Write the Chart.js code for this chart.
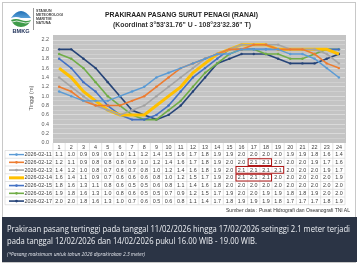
<!DOCTYPE html>
<html><head><meta charset="utf-8">
<script src="https://cdn.jsdelivr.net/npm/chart.js@4.4.1/dist/chart.umd.min.js"></script>
<style>
html,body{margin:0;padding:0;background:#fff;}
#wrap{position:relative;width:360px;height:266px;overflow:hidden;background:#fff;}
#frame{position:absolute;left:2px;top:2px;width:354px;height:261px;border:1px solid #c8c8c8;box-sizing:border-box;}
canvas{position:absolute;left:0;top:0;}
.t{position:absolute;white-space:nowrap;transform-origin:0 50%;}
#title{left:105px;top:10px;font:bold 7.2px "Liberation Sans",Arial,sans-serif;color:#222;}
#sub{left:113px;top:21px;font:bold 7px "Liberation Sans",Arial,sans-serif;color:#333;}
#stn{position:absolute;left:36px;top:8.5px;font:bold 3.6px "Liberation Sans",Arial,sans-serif;color:#444;line-height:4.3px;}
#sep{position:absolute;left:33px;top:8px;width:1px;height:22px;background:#999;}
#src{left:226px;top:207.5px;font:4.6px "Liberation Sans",Arial,sans-serif;color:#333;}
#box{position:absolute;left:2px;top:217px;width:355px;height:45px;background:#2b3445;}
#l1{left:7px;top:222px;font:9px "Open Sans",sans-serif;color:#eef0f4;}
#l2{left:7px;top:234px;font:9px "Open Sans",sans-serif;color:#eef0f4;}
#l3{left:7px;top:251px;font:italic 4.6px "Open Sans",sans-serif;color:#e0e3ea;}
</style></head>
<body><div id="wrap">
<div id="frame"></div>
<canvas id="c" width="360" height="266"></canvas>
<svg style="position:absolute;left:8px;top:6px" width="26" height="28" viewBox="0 0 26 28">
 <defs><linearGradient id="g1" x1="0" y1="0" x2="0" y2="1"><stop offset="0" stop-color="#1f6fb5"/><stop offset="1" stop-color="#5aa0d8"/></linearGradient></defs>
 <path d="M3 12 Q13 -2 23 12 Z" fill="url(#g1)"/>
 <path d="M3 12 Q8 10 13 12 Q18 14 23 12 L23 14 Q18 16 13 14 Q8 12 3 14 Z" fill="#fff"/>
 <path d="M3 14 Q8 12 13 14 Q18 16 23 14 Q20 21 13 21 Q6 21 3 14 Z" fill="#3f9b4a"/>
 <path d="M4 16 Q9 14 13 16 Q18 18 22 16" stroke="#fff" stroke-width="0.8" fill="none"/>
 <text x="13" y="27" text-anchor="middle" font-family="Liberation Sans,Arial" font-weight="bold" font-size="5.6" fill="#1d2f57">BMKG</text>
</svg>
<div id="sep"></div>
<div id="stn">STASIUN<br>METEOROLOGI<br>MARITIM<br>NATUNA</div>
<div class="t" id="title" data-w="153">PRAKIRAAN PASANG SURUT PENAGI (RANAI)</div>
<div class="t" id="sub" data-w="138">(Koordinat 3°53'31.76" U - 108°23'32.36" T)</div>
<div class="t" id="src" data-w="124">Sumber data : Pusat Hidrografi dan Oseanografi TNI AL</div>
<div id="box"></div>
<div class="t" id="l1" data-w="343">Prakiraan pasang tertinggi pada tanggal 11/02/2026 hingga 17/02/2026 setinggi 2.1 meter terjadi</div>
<div class="t" id="l2" data-w="250">pada tanggal 12/02/2026 dan 14/02/2026 pukul 16.00 WIB - 19.00 WIB.</div>
<div class="t" id="l3" data-w="138">(*Pasang maksimum untuk tahun 2026 diprakirakan 2.3 meter)</div>
</div>
<script>
const hours = ['1','2','3','4','5','6','7','8','9','10','11','12','13','14','15','16','17','18','19','20','21','22','23','24'];
const dates = ['2026-02-11','2026-02-12','2026-02-13','2026-02-14','2026-02-15','2026-02-16','2026-02-17'];
const d0211 = [1.1,1.0,0.9,0.9,0.9,1.0,1.1,1.2,1.4,1.5,1.6,1.7,1.8,1.9,1.9,2.0,2.0,2.0,2.0,1.9,1.9,1.8,1.6,1.4];
const d0212 = [1.2,1.1,0.9,0.8,0.8,0.8,0.9,1.0,1.2,1.4,1.6,1.7,1.8,1.9,2.0,2.0,2.1,2.1,2.0,2.0,2.0,1.9,1.7,1.6];
const d0213 = [1.4,1.2,1.0,0.8,0.7,0.6,0.7,0.8,1.0,1.2,1.4,1.6,1.8,1.9,2.0,2.1,2.1,2.1,2.1,2.0,2.0,2.0,1.9,1.7];
const d0214 = [1.6,1.4,1.1,0.9,0.7,0.6,0.6,0.6,0.8,1.0,1.2,1.5,1.7,1.9,2.0,2.1,2.1,2.1,2.0,2.0,2.0,2.0,2.0,1.9];
const d0215 = [1.8,1.6,1.3,1.1,0.8,0.6,0.5,0.5,0.6,0.8,1.1,1.4,1.6,1.8,2.0,2.0,2.0,2.0,2.0,2.0,2.0,2.0,2.0,2.0];
const d0216 = [1.9,1.8,1.6,1.3,1.0,0.8,0.6,0.5,0.5,0.7,0.9,1.2,1.5,1.7,1.9,2.0,2.0,1.9,1.9,1.8,1.8,1.9,2.0,2.0];
const d0217 = [2.0,2.0,1.8,1.6,1.3,1.0,0.7,0.6,0.5,0.6,0.8,1.1,1.4,1.7,1.8,1.9,1.9,1.9,1.8,1.7,1.7,1.7,1.8,1.9];
const series = [d0211,d0212,d0213,d0214,d0215,d0216,d0217];
// highlighted cells: [rowIndex, firstHourIndex, lastHourIndex]
const highlights = [[1,16,17],[2,15,18],[3,15,17]];
const yTicks = ['0.0','0.2','0.4','0.6','0.8','1.0','1.2','1.4','1.6','1.8','2.0','2.2'];

const colors = ['#5b9bd5','#ed7d31','#a5a5a5','#ffc000','#4472c4','#70ad47','#264478'];
const widths = [1.4,1.6,1.6,3,1.6,1.6,1.6];

const datasets = series.map((d,i)=>({
  label: dates[i], data: d, borderColor: colors[i], backgroundColor: colors[i],
  borderWidth: widths[i], pointRadius: i===3?0:1.2, pointBorderWidth:0, tension:0, fill:false
}));

const FONT = '"Liberation Sans", Arial, sans-serif';
const plugin = {
  id:'tbl',
  beforeDraw(chart){
    const {ctx, chartArea:a} = chart;
    ctx.save();
    ctx.fillStyle='#c4c4c4';
    ctx.fillRect(a.left, a.top-5, a.right-a.left+1, a.bottom-a.top+5);
    ctx.restore();
  },
  afterDraw(chart){
    const {ctx, chartArea:a} = chart;
    const xs = chart.scales.x;
    const cw = (a.right-a.left)/hours.length;
    const top = a.bottom, hh = 7.5, rh = 7.75;
    const bottom = top+hh+rh*series.length;
    ctx.save();
    // y title
    ctx.save();
    ctx.translate(31, 98); ctx.rotate(-Math.PI/2);
    ctx.font='5.6px '+FONT; ctx.fillStyle='#555'; ctx.textAlign='center'; ctx.textBaseline='middle';
    ctx.fillText('Tinggi (m)',0,0);
    ctx.restore();
    // grid
    ctx.strokeStyle='#d4d4d4'; ctx.lineWidth=0.6;
    ctx.beginPath();
    for(let r=0;r<=series.length;r++){
      const y = top+hh+r*rh;
      ctx.moveTo(5,y); ctx.lineTo(a.right,y);
    }
    for(let c=0;c<=hours.length;c++){
      const x=a.left+c*cw;
      ctx.moveTo(x,top); ctx.lineTo(x,bottom);
    }
    ctx.moveTo(5,top+hh); ctx.lineTo(5,bottom);
    ctx.stroke();
    ctx.font='5.4px '+FONT; ctx.fillStyle='#404040'; ctx.textAlign='center'; ctx.textBaseline='middle';
    hours.forEach((h,i)=>ctx.fillText(h, xs.getPixelForValue(i), top+hh/2+0.3));
    series.forEach((d,r)=>{
      const y = top+hh+rh*r+rh/2+0.2;
      d.forEach((v,i)=>ctx.fillText(v.toFixed(1), xs.getPixelForValue(i), y));
      // legend sample
      ctx.strokeStyle=colors[r]; ctx.lineWidth=widths[r];
      ctx.beginPath(); ctx.moveTo(9,y); ctx.lineTo(24,y); ctx.stroke();
      if(r!==3){ctx.fillStyle=colors[r]; ctx.beginPath(); ctx.arc(16.5,y,1.3,0,Math.PI*2); ctx.fill();}
      ctx.fillStyle='#404040'; ctx.textAlign='left';
      ctx.fillText(dates[r], 24.5, y);
      ctx.textAlign='center';
    });
    ctx.strokeStyle='#b01818'; ctx.lineWidth=1;
    highlights.forEach(([r,c0,c1])=>{
      const x0=a.left+c0*cw, x1=a.left+(c1+1)*cw, y0=top+hh+rh*r;
      ctx.strokeRect(x0+0.5, y0+0.5, x1-x0-1, rh-1);
    });
    ctx.restore();
  }
};

new Chart(document.getElementById('c'), {
  type:'line',
  data:{labels:hours, datasets},
  options:{
    responsive:false, animation:false, devicePixelRatio:1,
    layout:{padding:{left:0,right:15,top:40,bottom:123}},
    plugins:{legend:{display:false}, tooltip:{enabled:false}},
    scales:{
      x:{display:false, offset:true},
      y:{min:0,max:2.2,
        afterFit(s){s.width=53;},
        border:{display:false},
        grid:{color:(c)=>c.index%2===0?'rgba(255,255,255,0.55)':'rgba(255,255,255,0.3)', lineWidth:0.7, drawTicks:false},
        ticks:{stepSize:0.1, padding:4, autoSkip:false, color:'#595959', font:{size:5.4,family:FONT},
          callback:(v,i)=> i%2===0 ? yTicks[i/2] : ''}
      }
    }
  },
  plugins:[plugin]
});

document.querySelectorAll('.t').forEach(el=>{
  const w = parseFloat(el.dataset.w);
  const cur = el.getBoundingClientRect().width;
  if(cur>0) el.style.transform='scaleX('+(w/cur)+')';
});
</script>
</body></html>
